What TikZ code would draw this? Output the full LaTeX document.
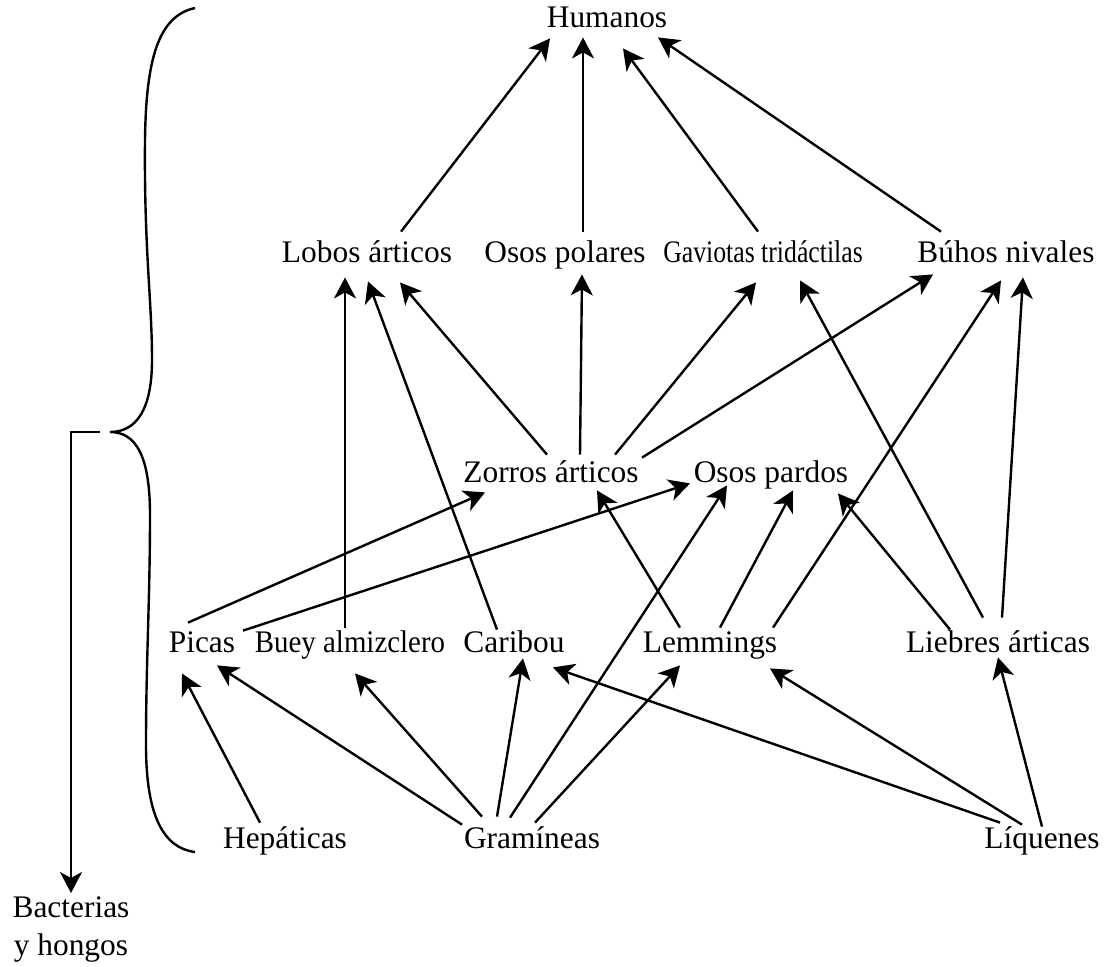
\documentclass[tikz,border=0pt]{standalone}
\usepackage{fontspec}
\setmainfont{Liberation Serif}
\usetikzlibrary{arrows.meta,calc}

\begin{document}
\begin{tikzpicture}[x=0.5pt,y=-0.5pt,
  sp/.style={anchor=base,inner sep=0pt,text height=11pt,text depth=4pt,
    font=\fontsize{15.7}{19}\selectfont},
  arr/.style={-{Stealth[length=10.5pt,width=11pt,inset=3pt]},line width=1.2pt}]
\useasboundingbox (0,0) rectangle (1112,966);
% species
\node[sp] (hum) at (607,27) {Humanos};
\node[sp] (lob) at (367,262) {Lobos árticos};
\node[sp] (opo) at (565,262) {Osos polares};
\node[sp] (gav) at (763,262) {\scalebox{0.82}[1]{Gaviotas tridáctilas}};
\node[sp] (buh) at (1006,262) {Búhos nivales};
\node[sp] (zor) at (551,482) {Zorros árticos};
\node[sp] (opa) at (771,482) {Osos pardos};
\node[sp] (pic) at (202,652) {Picas};
\node[sp] (bue) at (350,652) {\scalebox{0.92}[1]{Buey almizclero}};
\node[sp] (car) at (514,652) {Caribou};
\node[sp] (lem) at (710,652) {Lemmings};
\node[sp] (lie) at (998,652) {Liebres árticas};
\node[sp] (hep) at (285,848) {Hepáticas};
\node[sp] (gra) at (532,848) {Gramíneas};
\node[sp] (liq) at (1042,848) {Líquenes};
\node[anchor=north,inner sep=0pt,align=center,font=\fontsize{15.7}{19}\selectfont]
  (bac) at (71,896) {Bacterias\\y hongos};

% to humanos
\draw[arr] ($(lob.north)+(34,-8)$) -- ($(hum.south)+(-57,3)$);
\draw[arr] ($(opo.north)+(18,-8)$) -- ($(hum.south)+(-24,2)$);
\draw[arr] ($(gav.north)+(-5,-8)$) -- ($(hum.south)+(16,13)$);
\draw[arr] ($(buh.north)+(-65,-8)$) -- ($(hum.south)+(51,2)$);
% from zorros
\draw[arr] ($(zor.north)+(-4,-5)$) -- ($(lob.south)+(33,12)$);
\draw[arr] ($(zor.north)+(29,-5)$) -- ($(opo.south)+(17,4)$);
\draw[arr] ($(zor.north)+(64,-5)$) -- ($(gav.south)+(-7,12)$);
\draw[arr] ($(zor.north)+(91,-2)$) -- ($(buh.south)+(-73,4)$);
% middle row
\draw[arr] ($(bue.north)+(-5,-2)$) -- ($(lob.south)+(-22,7)$);
\draw[arr] ($(car.north)+(-17,0)$) -- ($(lob.south)+(1,11)$);
\draw[arr] ($(pic.north)+(-14,-7)$) -- ($(zor.south)+(-66,2)$);
\draw[arr] ($(pic.north)+(41,1)$) -- ($(opa.south)+(-81,-7)$);
\draw[arr] ($(lem.north)+(-30,-2)$) -- ($(zor.south)+(46,0)$);
\draw[arr] ($(lem.north)+(10,-2)$) -- ($(opa.south)+(22,0)$);
\draw[arr] ($(lem.north)+(63,-2)$) -- ($(buh.south)+(-5,10)$);
\draw[arr] ($(lie.north)+(-48,0)$) -- ($(opa.south)+(67,3)$);
\draw[arr] ($(lie.north)+(-15,-12)$) -- ($(gav.south)+(37,10)$);
\draw[arr] ($(lie.north)+(4,-12)$) -- ($(buh.south)+(17,7)$);
% bottom row
\draw[arr] ($(hep.north)+(-25,-3)$) -- ($(pic.south)+(-20,13)$);
\draw[arr] ($(gra.north)+(-70,-1)$) -- ($(pic.south)+(15,5)$);
\draw[arr] ($(gra.north)+(-50,-9)$) -- ($(bue.south)+(5,13)$);
\draw[arr] ($(gra.north)+(-35,-9)$) -- ($(car.south)+(9,-2)$);
\draw[arr] ($(gra.north)+(-22,-8)$) -- ($(opa.south)+(-44,-5)$);
\draw[arr] ($(gra.north)+(3,-3)$) -- ($(lem.south)+(-30,5)$);
\draw[arr] ($(liq.north)+(-42,-3)$) -- ($(car.south)+(39,7)$);
\draw[arr] ($(liq.north)+(-20,-1)$) -- ($(lem.south)+(60,8)$);
\draw[arr] ($(liq.north)+(0,1)$) -- ($(lie.south)+(0,-3)$);

% brace
\draw[line width=1.2pt] (195,8) .. controls (158,16) and (146,60) .. (145,140)
  .. controls (144,250) and (152,300) .. (152,360)
  .. controls (152,410) and (136,432) .. (110,432)
  .. controls (136,432) and (150,456) .. (150,515)
  .. controls (150,600) and (146,660) .. (146,745)
  .. controls (146,815) and (163,848) .. (195,852);
\coordinate (stub) at (100,432);
\draw[arr] (stub) -| ($(bac.north)+(0,-3)$);
\end{tikzpicture}
\end{document}
